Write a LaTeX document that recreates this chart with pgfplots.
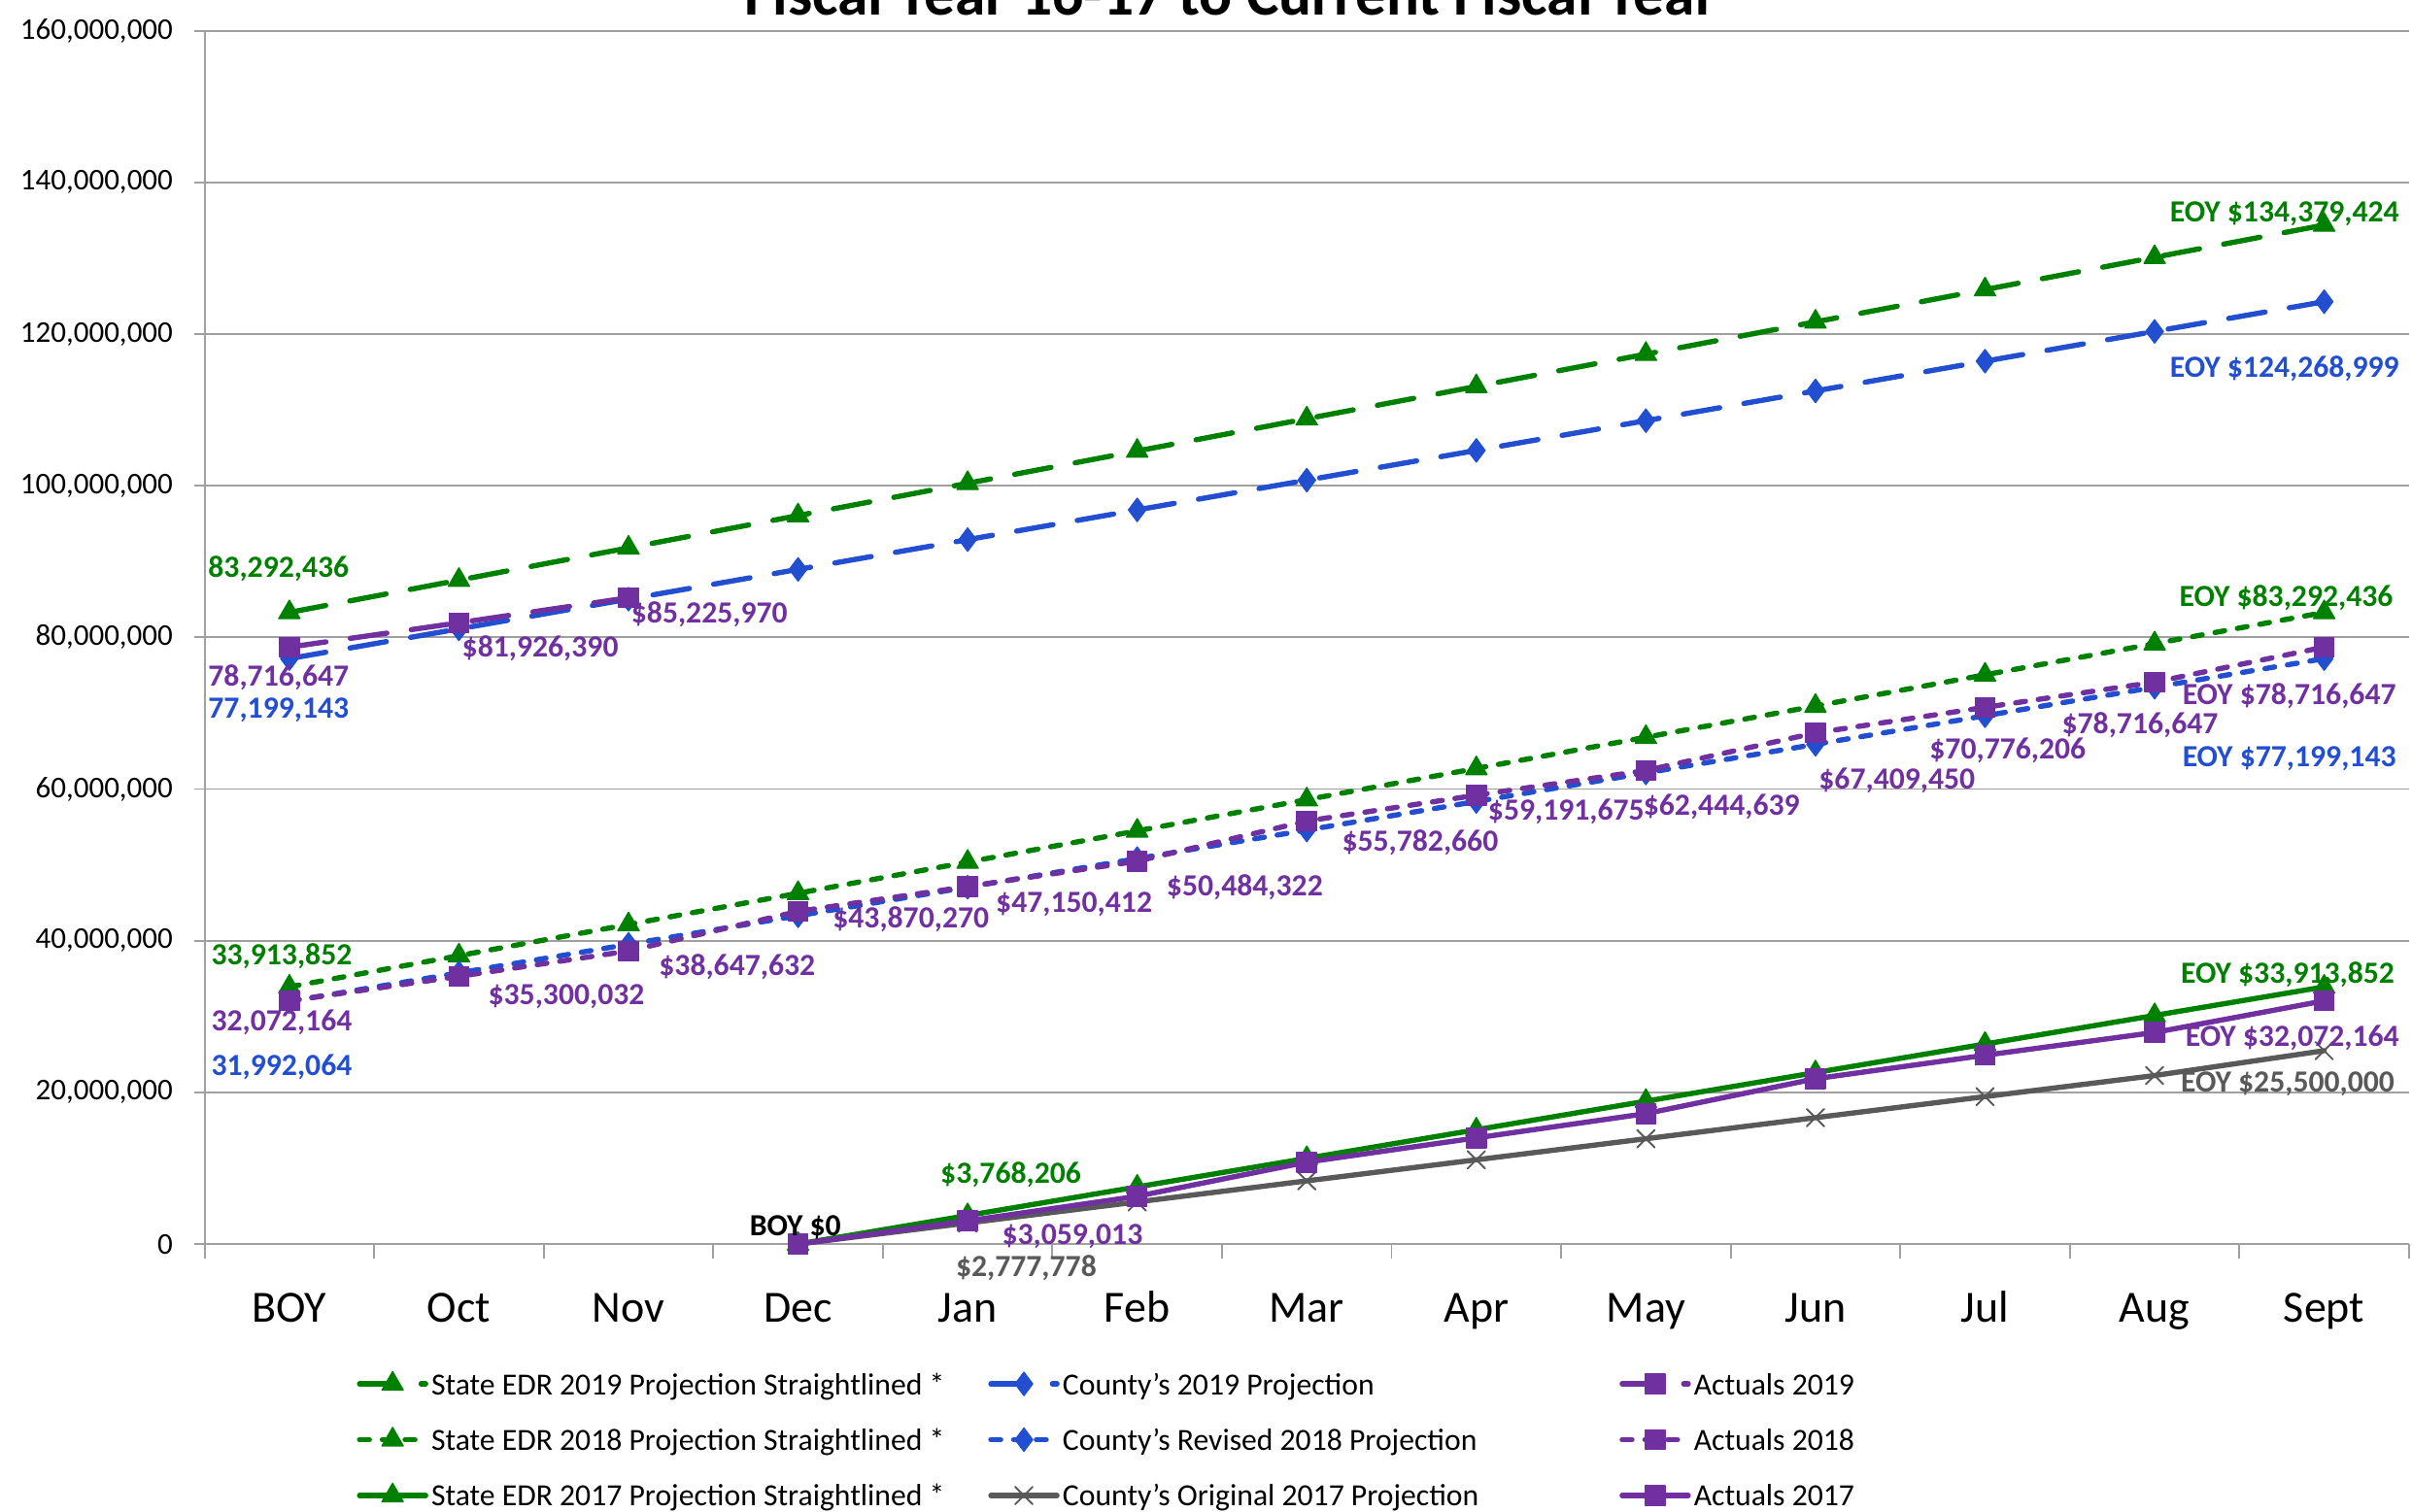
\documentclass[border=0pt]{standalone}
\usepackage{fontspec}
\setmainfont{Carlito}
\usepackage{pgfplots}
\pgfplotsset{compat=1.18}
\definecolor{cgreen}{RGB}{0,128,0}
\definecolor{cblue}{RGB}{34,78,208}
\definecolor{cpurple}{RGB}{112,48,160}
\definecolor{cgray}{RGB}{89,89,89}
\definecolor{gridgray}{RGB}{160,160,160}
\newcommand{\lab}[5]{\node[anchor=base #3, text=#4, font=\bfseries\fontsize{10}{12}\selectfont, inner sep=0pt] at ({#1*0.5pt},{491.5pt-(#2+6.3)*0.5pt}) {#5};}
\pgfplotsset{
  longdash/.style={dash pattern=on 12pt off 8pt},
  shortdash/.style={dash pattern=on 3.2pt off 4.2pt},
  ser/.style={line width=1.7pt, line cap=round, line join=round},
}
\begin{document}
\begin{tikzpicture}
\begin{axis}[
  at={(66.5pt,87pt)}, anchor=south west,
  scale only axis, width=716.5pt, height=394.5pt,
  xmin=-0.5, xmax=12.5, ymin=0, ymax=160000000,
  axis lines*=left, axis line style={draw=gridgray, line width=0.6pt, -},
  xtick={0,...,12},
  xticklabels={BOY,Oct,Nov,Dec,Jan,Feb,Mar,Apr,May,Jun,Jul,Aug,Sept},
  minor xtick={-0.5,0.5,...,12.5},
  major x tick style={draw=none},
  minor x tick style={draw=gridgray, line width=0.6pt},
  minor tick length=4.7pt,
  ytick={0,20000000,40000000,60000000,80000000,100000000,120000000,140000000,160000000},
  yticklabels={0,{20,000,000},{40,000,000},{60,000,000},{80,000,000},{100,000,000},{120,000,000},{140,000,000},{160,000,000}},
  y tick style={draw=gridgray, line width=0.6pt},
  major tick length=3.3pt,
  tick align=outside,
  ymajorgrids, major grid style={draw=gridgray, line width=0.6pt},
  xticklabel style={font=\fontsize{14.5}{16}\selectfont, anchor=base, yshift=-22pt},
  yticklabel style={font=\fontsize{9.8}{11}\selectfont, anchor=east, xshift=-3.5pt},
  scaled y ticks=false,
  clip=false,
  legend columns=3,
  legend style={at={(axis description cs:0.0691,-0.1027)}, anchor=north west, draw=none, fill=none, inner sep=0pt, outer sep=0pt, font=\fontsize{10}{12}\selectfont, row sep=8.25pt, nodes={inner sep=0pt}, /tikz/every odd column/.append style={column sep=1pt}},
  legend cell align=left,
  legend image code/.code={\draw[mark repeat=2,mark phase=2,#1] plot coordinates {(0pt,0pt) (10.75pt,0pt) (21.5pt,0pt)};},
]
\addplot[ser, cgreen, longdash, mark=triangle*, mark size=4pt, mark options={solid, fill=cgreen, line width=0.4pt}] coordinates {(0,83292436)(1,87549685)(2,91806934)(3,96064183)(4,100321432)(5,104578681)(6,108835930)(7,113093179)(8,117350428)(9,121607677)(10,125864926)(11,130122175)(12,134379424)};
\addlegendentry{\makebox[181pt][l]{\strut State EDR 2019 Projection Straightlined *}}
\addplot[ser, cblue, longdash, mark=diamond*, mark size=3.8pt, mark options={solid, fill=cblue, line width=0.4pt}] coordinates {(0,77199143)(1,81121631)(2,85044119)(3,88966607)(4,92889095)(5,96811583)(6,100734071)(7,104656559)(8,108579047)(9,112501535)(10,116424023)(11,120346511)(12,124268999)};
\addlegendentry{\makebox[181pt][l]{\strut County’s 2019 Projection}}
\addplot[ser, cpurple, longdash, mark=square*, mark size=3.2pt, mark options={solid, fill=cpurple, line width=0.4pt}] coordinates {(0,78716647)(1,81926390)(2,85225970)};
\addlegendentry{\makebox[120pt][l]{\strut Actuals 2019}}
\addplot[ser, cgreen, shortdash, mark=triangle*, mark size=4pt, mark options={solid, fill=cgreen, line width=0.4pt}] coordinates {(0,33913852)(1,38028734)(2,42143616)(3,46258498)(4,50373380)(5,54488262)(6,58603144)(7,62718026)(8,66832908)(9,70947790)(10,75062672)(11,79177554)(12,83292436)};
\addlegendentry{\makebox[181pt][l]{\strut State EDR 2018 Projection Straightlined *}}
\addplot[ser, cblue, shortdash, mark=diamond*, mark size=3.8pt, mark options={solid, fill=cblue, line width=0.4pt}] coordinates {(0,31992064)(1,35759321)(2,39526577)(3,43293834)(4,47061090)(5,50828347)(6,54595604)(7,58362860)(8,62130117)(9,65897373)(10,69664630)(11,73431886)(12,77199143)};
\addlegendentry{\makebox[181pt][l]{\strut County’s Revised 2018 Projection}}
\addplot[ser, cpurple, shortdash, mark=square*, mark size=3.2pt, mark options={solid, fill=cpurple, line width=0.4pt}] coordinates {(0,32072164)(1,35300032)(2,38647632)(3,43870270)(4,47150412)(5,50484322)(6,55782660)(7,59191675)(8,62444639)(9,67409450)(10,70776206)(11,74100000)(12,78716647)};
\addlegendentry{\makebox[120pt][l]{\strut Actuals 2018}}
\addplot[ser, cgreen, mark=triangle*, mark size=4pt, mark options={solid, fill=cgreen, line width=0.4pt}] coordinates {(3,0)(4,3768206)(5,7536412)(6,11304618)(7,15072824)(8,18841030)(9,22609236)(10,26377442)(11,30145648)(12,33913852)};
\addlegendentry{\makebox[181pt][l]{\strut State EDR 2017 Projection Straightlined *}}
\addplot[ser, cgray, mark=x, mark size=4pt, mark options={solid, line width=0.6pt}] coordinates {(3,0)(4,2777778)(5,5555556)(6,8333333)(7,11111111)(8,13888889)(9,16666667)(10,19444444)(11,22222222)(12,25500000)};
\addlegendentry{\makebox[181pt][l]{\strut County\symbol{39}s Original 2017 Projection}}
\addplot[ser, cpurple, mark=square*, mark size=3.2pt, mark options={solid, fill=cpurple, line width=0.4pt}] coordinates {(3,0)(4,3059013)(5,6300000)(6,10800000)(7,14000000)(8,17200000)(9,21800000)(10,24900000)(11,27900000)(12,32072164)};
\addlegendentry{\makebox[120pt][l]{\strut Actuals 2017}}
\end{axis}
\node[font=\bfseries\fontsize{20}{22}\selectfont, anchor=base] at (400pt,486.75pt) {Fiscal Year 16-17 to Current Fiscal Year};
\lab{135}{369}{west}{cgreen}{83,292,436}
\lab{135}{440}{west}{cpurple}{78,716,647}
\lab{135}{461}{west}{cblue}{77,199,143}
\lab{300}{421}{west}{cpurple}{\$81,926,390}
\lab{410}{399}{west}{cpurple}{\$85,225,970}
\lab{1560}{138}{east}{cgreen}{EOY \$134,379,424}
\lab{1560}{239}{east}{cblue}{EOY \$124,268,999}
\lab{1556}{388}{east}{cgreen}{EOY \$83,292,436}
\lab{1558}{452}{east}{cpurple}{EOY \$78,716,647}
\lab{1340}{471}{west}{cpurple}{\$78,716,647}
\lab{1558}{492}{east}{cblue}{EOY \$77,199,143}
\lab{1254}{487}{west}{cpurple}{\$70,776,206}
\lab{1182}{507}{west}{cpurple}{\$67,409,450}
\lab{1068}{524}{west}{cpurple}{\$62,444,639}
\lab{967}{527}{west}{cpurple}{\$59,191,675}
\lab{872}{547}{west}{cpurple}{\$55,782,660}
\lab{758}{576}{west}{cpurple}{\$50,484,322}
\lab{647}{587}{west}{cpurple}{\$47,150,412}
\lab{541}{597}{west}{cpurple}{\$43,870,270}
\lab{428}{628}{west}{cpurple}{\$38,647,632}
\lab{317}{647}{west}{cpurple}{\$35,300,032}
\lab{137}{621}{west}{cgreen}{33,913,852}
\lab{137}{664}{west}{cpurple}{32,072,164}
\lab{137}{693}{west}{cblue}{31,992,064}
\lab{1557}{633}{east}{cgreen}{EOY \$33,913,852}
\lab{1560}{674}{east}{cpurple}{EOY \$32,072,164}
\lab{1557}{704}{east}{cgray}{EOY \$25,500,000}
\lab{611}{763}{west}{cgreen}{\$3,768,206}
\lab{487}{797}{west}{black}{BOY \$0}
\lab{651}{803}{west}{cpurple}{\$3,059,013}
\lab{621}{824}{west}{cgray}{\$2,777,778}
\pgfresetboundingbox
\useasboundingbox (0,0) rectangle (784pt,491.5pt);
\end{tikzpicture}
\end{document}
